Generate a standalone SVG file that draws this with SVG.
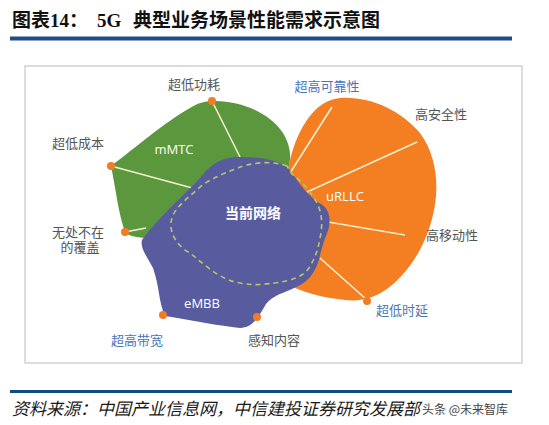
<svg xmlns="http://www.w3.org/2000/svg" width="549" height="425" viewBox="0 0 549 425">
<style>
.t{font-family:"Liberation Sans","Noto Sans CJK SC",sans-serif;font-size:13px;fill:#555}
.b{fill:#4a76b6}
.w{fill:#fff;font-family:"Open Sans","Noto Sans CJK SC",sans-serif;font-size:13px}
.dot{fill:#f07c26}
.ln{stroke:#f4f0cf;stroke-width:1.6;fill:none}
</style>
<rect width="549" height="425" fill="#fff"/>
<g id="title">
<text y="27" font-family="Liberation Serif,'Noto Sans CJK SC',serif" font-weight="bold" font-size="19" fill="#111"><tspan x="12" font-family="'Noto Sans CJK SC',sans-serif">图表</tspan><tspan>14</tspan><tspan font-family="'Noto Sans CJK SC',sans-serif">：</tspan><tspan x="97">5G</tspan><tspan x="133" font-family="'Noto Sans CJK SC',sans-serif">典型业务场景性能需求示意图</tspan></text>
<rect x="10" y="36.5" width="502" height="4" fill="#1f4d84"/>
</g>
<rect id="frame" x="25" y="66" width="497" height="297" fill="#fff" stroke="#c6c6c6" stroke-width="1.2"/>
<g id="mMTC">
<path d="M212,101 C240,100 270,113 283,133 C292,148 291,160 288,170 L230,200 L145,238 C132,237 126,234 125,232 C118,212 116,190 111,166 C135,148 165,122 190,108 C198,103 205,101 212,101 Z" fill="#5b983d"/>
<path class="ln" d="M212,101 L240,157 M111,166 L196,189 M125,232 L146,228"/>
</g>
<g id="uRLLC">
<path d="M290,160 C298,128 315,100 340,98 C370,96 400,110 420,133 C440,160 438,195 433,215 C426,245 410,270 392,285 C377,298 360,302 345,300 C325,298 307,293 295,288 L280,210 Z" fill="#f47f22"/>
<path class="ln" d="M332,107 L290,173 M417,142 L307,192 M328,222 L405,235 M320,258 L367,300"/>
</g>
<g id="eMBB">
<path d="M142,240 C160,215 185,195 200,178 C212,163 222,157 240,157 C262,157 280,160 290,170 C300,185 310,198 321,204 C332,211 331,225 326,236 C319,251 321,268 306,281 C292,292 276,292 266,304 C258,318 252,328 240,328 C220,326 190,320 165,316 C158,300 160,288 153,268 C146,255 140,248 142,240 Z" fill="#585c9f"/>
<path d="M287,166 C270,160 250,163 238,168 C220,175 207,180 197,190 C185,200 175,208 172,218 C168,230 175,245 190,253 C205,265 220,280 240,283 C255,286 265,284 275,283 C290,281 303,277 309,268 C315,258 318,250 320,238 C323,225 322,213 317,203 C310,190 300,180 292,174 C289,170 288,168 287,166 Z" fill="none" stroke="#b6c46a" stroke-width="1.6" stroke-dasharray="5,4"/>
</g>
<g id="dots">
<circle class="dot" cx="212" cy="101" r="4"/>
<circle class="dot" cx="111" cy="166" r="4"/>
<circle class="dot" cx="125" cy="232" r="4"/>
<circle class="dot" cx="163" cy="315" r="4"/>
<circle class="dot" cx="257" cy="317" r="4"/>
<circle class="dot" cx="367" cy="301" r="4"/>
</g>
<g id="labels">
<text class="t" x="194" y="89" text-anchor="middle">超低功耗</text>
<text class="t" x="78" y="148" text-anchor="middle">超低成本</text>
<text class="t" x="78" y="237" text-anchor="middle">无处不在</text>
<text class="t" x="80" y="252" text-anchor="middle">的覆盖</text>
<text class="t b" x="137" y="345" text-anchor="middle">超高带宽</text>
<text class="t" x="274" y="345" text-anchor="middle">感知内容</text>
<text class="t b" x="402" y="315" text-anchor="middle">超低时延</text>
<text class="t" x="452" y="240" text-anchor="middle">高移动性</text>
<text class="t" x="441" y="119" text-anchor="middle">高安全性</text>
<text class="t b" x="327" y="91" text-anchor="middle">超高可靠性</text>
<text class="w" x="174" y="154" text-anchor="middle">mMTC</text>
<text class="w" x="345" y="201" text-anchor="middle">uRLLC</text>
<text class="w" x="202" y="308" text-anchor="middle">eMBB</text>
<text x="253" y="218" text-anchor="middle" font-family="'Noto Sans CJK SC',sans-serif" font-size="14" font-weight="bold" fill="#fff">当前网络</text>
</g>
<g id="footer">
<rect x="10" y="390" width="502" height="3" fill="#0f4c81"/>
<text x="12" y="415" font-family="'Noto Sans CJK SC',sans-serif" font-size="17" font-style="italic" fill="#1a1a1a">资料来源：中国产业信息网，中信建投证券研究发展部</text>
<text x="422" y="414" font-family="'Noto Sans CJK SC',sans-serif" font-size="12" fill="#444">头条 @未来智库</text>
</g>
</svg>
